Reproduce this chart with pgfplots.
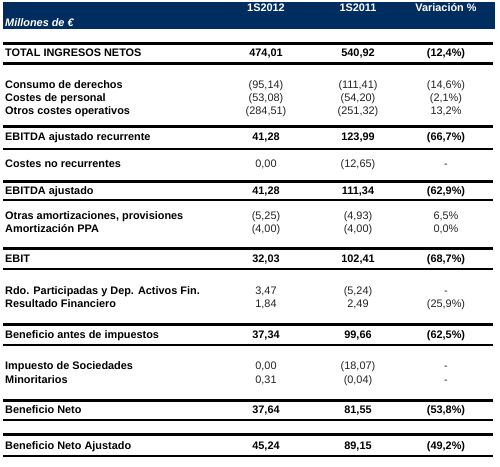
\documentclass[border=0pt]{standalone}
\usepackage{pgfplots}
\pgfplotsset{compat=1.18}
\usepackage{fontspec}
\setmainfont{Liberation Sans}
\definecolor{navy}{RGB}{0,45,95}
\definecolor{numgray}{RGB}{35,35,35}
\newcommand\tfont{\fontsize{10.9}{13}\selectfont}
\tikzset{
  lab/.style={anchor=west,inner sep=0pt,text height=7.8pt,text depth=0pt,font=\tfont\bfseries},
  num/.style={anchor=center,inner sep=0pt,text height=7.8pt,text depth=0pt,font=\tfont,text=numgray},
  bnum/.style={anchor=center,inner sep=0pt,text height=7.8pt,text depth=0pt,font=\tfont\bfseries},
  hd/.style={inner sep=0pt,text height=7.8pt,text depth=0pt,font=\tfont\bfseries,text=white},
  thick rule/.style={black,line width=3pt},
  thin rule/.style={black,line width=2.2pt}}
\begin{document}
\begin{tikzpicture}
\begin{axis}[width=500pt,height=466pt,scale only axis,
  xmin=0,xmax=500,ymin=0,ymax=466,y dir=reverse,hide axis,clip=false]
\path (axis cs:0,0) rectangle (axis cs:500,466);
% header
\addplot[fill=navy,draw=none] coordinates {(3,2)(495,2)(495,29)(3,29)} -- cycle;
\node[hd,anchor=center] at (axis cs:266,8) {1S2012};
\node[hd,anchor=center] at (axis cs:358,8) {1S2011};
\node[hd,anchor=center] at (axis cs:446,8) {Variación \%};
\node[hd,anchor=west,font=\tfont\bfseries\itshape] at (axis cs:5,23) {Millones de €};
% rules
\addplot[thick rule] coordinates {(3,43)(493,43)};
\addplot[thick rule] coordinates {(3,63)(493,63)};
\addplot[thick rule] coordinates {(3,126)(493,126)};
\addplot[thin rule] coordinates {(3,149)(493,149)};
\addplot[thick rule] coordinates {(3,181)(493,181)};
\addplot[thin rule] coordinates {(3,200)(493,200)};
\addplot[thick rule] coordinates {(3,248)(493,248)};
\addplot[thin rule] coordinates {(3,269)(493,269)};
\addplot[thick rule] coordinates {(3,324)(493,324)};
\addplot[thin rule] coordinates {(3,345)(493,345)};
\addplot[thick rule] coordinates {(3,400)(493,400)};
\addplot[thin rule] coordinates {(3,420)(493,420)};
\addplot[thick rule] coordinates {(3,434)(493,434)};
\addplot[thin rule] coordinates {(3,456)(493,456)};
% rows
\node[lab] at (axis cs:5,53) {TOTAL INGRESOS NETOS};
\node[bnum] at (axis cs:266,53) {474,01};
\node[bnum] at (axis cs:358,53) {540,92};
\node[bnum] at (axis cs:446,53) {(12,4\%)};

\node[lab] at (axis cs:5,85) {Consumo de derechos};
\node[num] at (axis cs:266,85) {(95,14)};
\node[num] at (axis cs:358,85) {(111,41)};
\node[num] at (axis cs:446,85) {(14,6\%)};

\node[lab] at (axis cs:5,98) {Costes de personal};
\node[num] at (axis cs:266,98) {(53,08)};
\node[num] at (axis cs:358,98) {(54,20)};
\node[num] at (axis cs:446,98) {(2,1\%)};

\node[lab] at (axis cs:5,111) {Otros costes operativos};
\node[num] at (axis cs:266,111) {(284,51)};
\node[num] at (axis cs:358,111) {(251,32)};
\node[num] at (axis cs:446,111) {13,2\%};

\node[lab] at (axis cs:5,137) {EBITDA ajustado recurrente};
\node[bnum] at (axis cs:266,137) {41,28};
\node[bnum] at (axis cs:358,137) {123,99};
\node[bnum] at (axis cs:446,137) {(66,7\%)};

\node[lab] at (axis cs:5,164) {Costes no recurrentes};
\node[num] at (axis cs:266,164) {0,00};
\node[num] at (axis cs:358,164) {(12,65)};
\node[num] at (axis cs:446,164) {-};

\node[lab] at (axis cs:5,191) {EBITDA ajustado};
\node[bnum] at (axis cs:266,191) {41,28};
\node[bnum] at (axis cs:358,191) {111,34};
\node[bnum] at (axis cs:446,191) {(62,9\%)};

\node[lab] at (axis cs:5,216) {Otras amortizaciones, provisiones};
\node[num] at (axis cs:266,216) {(5,25)};
\node[num] at (axis cs:358,216) {(4,93)};
\node[num] at (axis cs:446,216) {6,5\%};

\node[lab] at (axis cs:5,229) {Amortización PPA};
\node[num] at (axis cs:266,229) {(4,00)};
\node[num] at (axis cs:358,229) {(4,00)};
\node[num] at (axis cs:446,229) {0,0\%};

\node[lab] at (axis cs:5,259) {EBIT};
\node[bnum] at (axis cs:266,259) {32,03};
\node[bnum] at (axis cs:358,259) {102,41};
\node[bnum] at (axis cs:446,259) {(68,7\%)};

\node[lab] at (axis cs:5,291) {Rdo. Participadas y Dep. Activos Fin.};
\node[num] at (axis cs:266,291) {3,47};
\node[num] at (axis cs:358,291) {(5,24)};
\node[num] at (axis cs:446,291) {-};

\node[lab] at (axis cs:5,304) {Resultado Financiero};
\node[num] at (axis cs:266,304) {1,84};
\node[num] at (axis cs:358,304) {2,49};
\node[num] at (axis cs:446,304) {(25,9\%)};

\node[lab] at (axis cs:5,335) {Beneficio antes de impuestos};
\node[bnum] at (axis cs:266,335) {37,34};
\node[bnum] at (axis cs:358,335) {99,66};
\node[bnum] at (axis cs:446,335) {(62,5\%)};

\node[lab] at (axis cs:5,366) {Impuesto de Sociedades};
\node[num] at (axis cs:266,366) {0,00};
\node[num] at (axis cs:358,366) {(18,07)};
\node[num] at (axis cs:446,366) {-};

\node[lab] at (axis cs:5,380) {Minoritarios};
\node[num] at (axis cs:266,380) {0,31};
\node[num] at (axis cs:358,380) {(0,04)};
\node[num] at (axis cs:446,380) {-};

\node[lab] at (axis cs:5,410) {Beneficio Neto};
\node[bnum] at (axis cs:266,410) {37,64};
\node[bnum] at (axis cs:358,410) {81,55};
\node[bnum] at (axis cs:446,410) {(53,8\%)};

\node[lab] at (axis cs:5,446) {Beneficio Neto Ajustado};
\node[bnum] at (axis cs:266,446) {45,24};
\node[bnum] at (axis cs:358,446) {89,15};
\node[bnum] at (axis cs:446,446) {(49,2\%)};
\end{axis}
\end{tikzpicture}
\end{document}
